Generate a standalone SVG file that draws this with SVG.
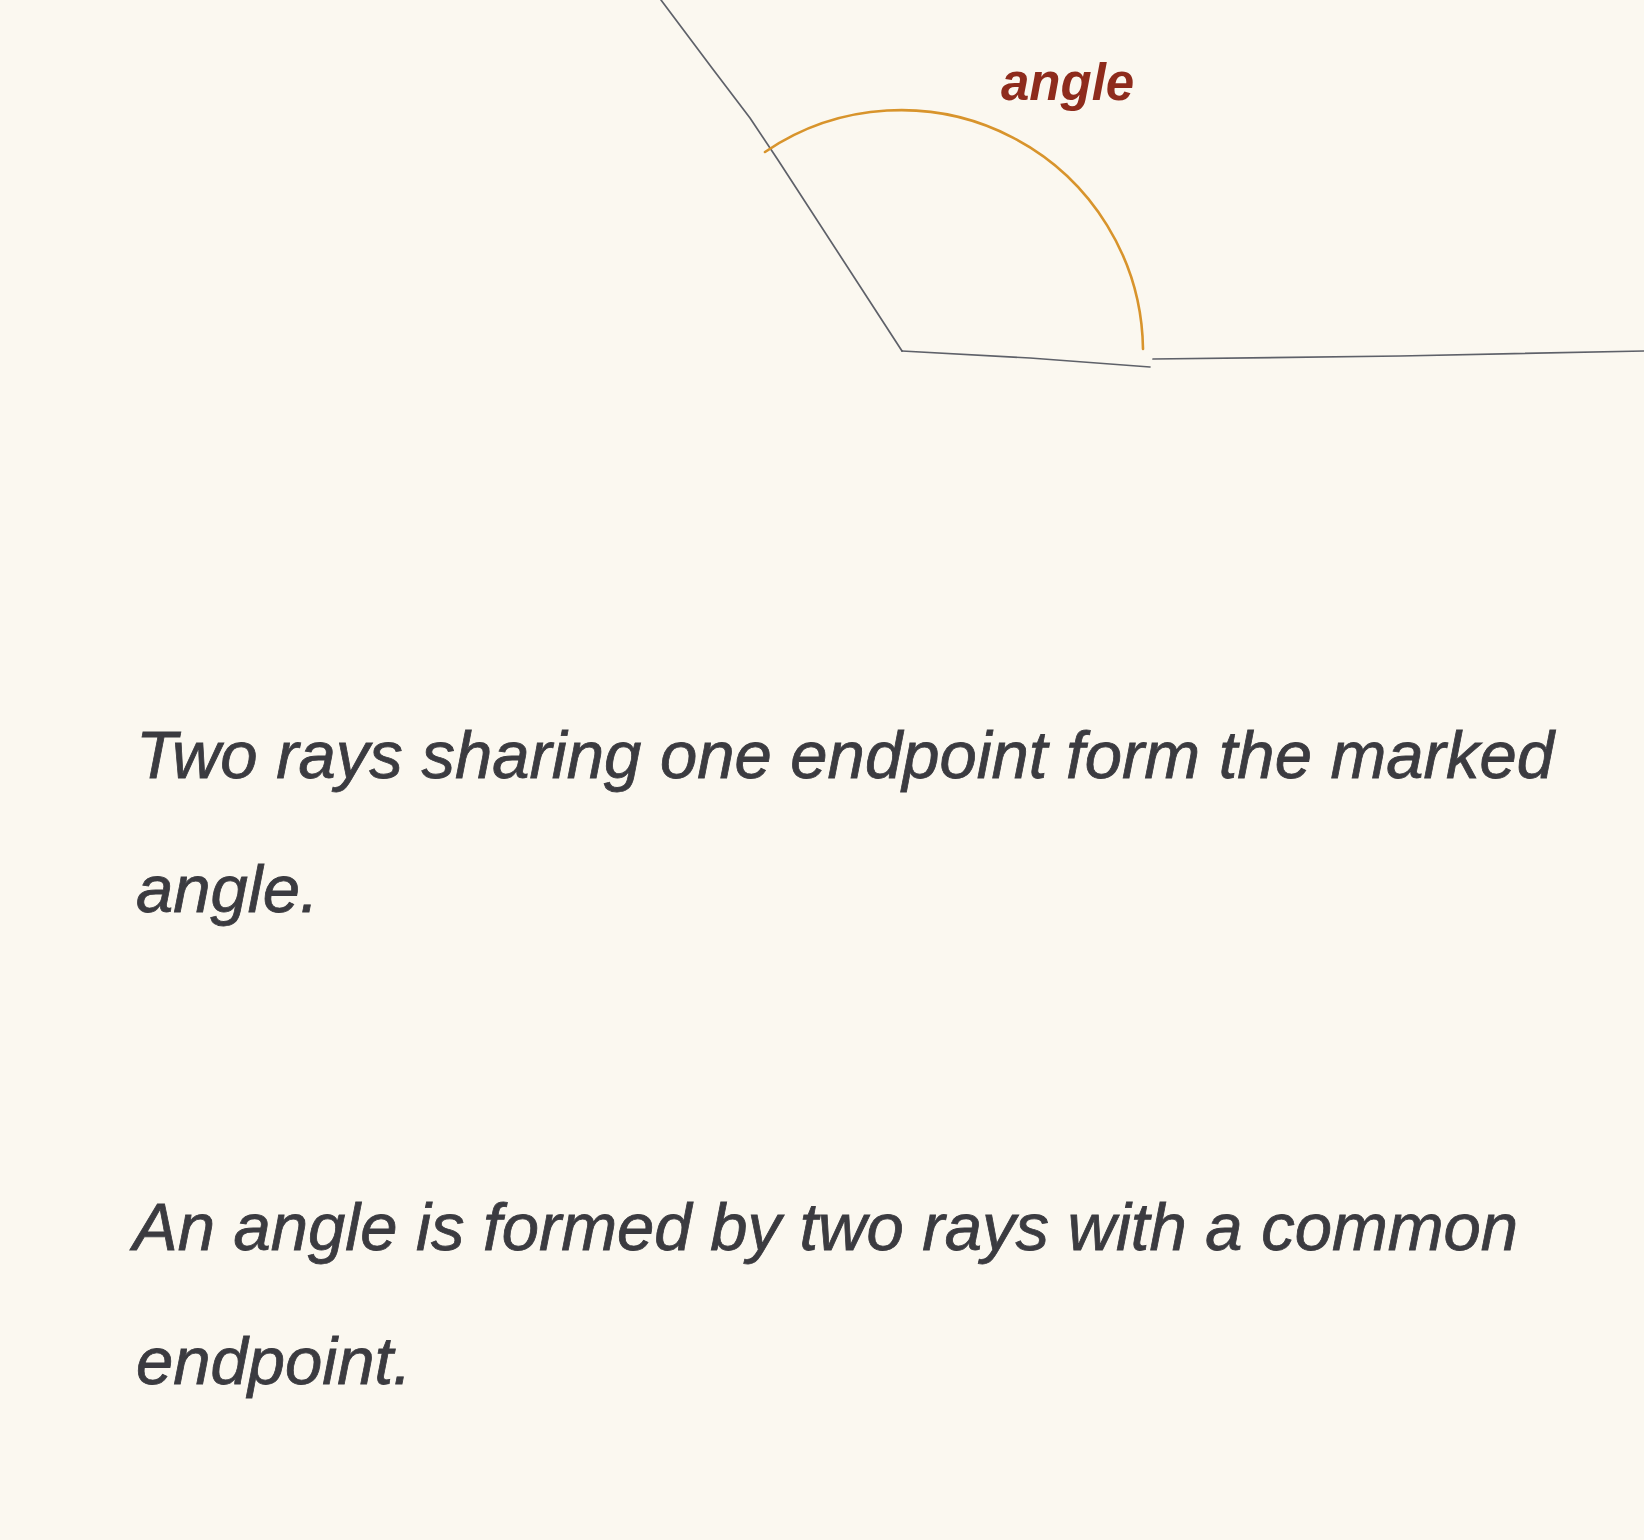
<svg xmlns="http://www.w3.org/2000/svg" width="1644" height="1540" viewBox="0 0 1644 1540">
  <style>
    .ray { fill: none; stroke: #4c505a; stroke-width: 1.7; stroke-linecap: round; stroke-linejoin: round; opacity: 0.9; }
    .arc { fill: none; stroke: #d8942c; stroke-width: 2.6; stroke-linecap: round; }
    .label { font-family: "Liberation Sans", Arial, sans-serif; font-style: italic; font-weight: bold; font-size: 51px; fill: #8e2b1c; }
    .body { font-family: "Liberation Sans", Arial, sans-serif; font-style: italic; font-size: 67px; fill: #3b3b40; stroke: #3b3b40; stroke-width: 0.8; }
  </style>
  <rect width="1644" height="1540" fill="#fbf8f0"/>
  <g id="connectors">
    <g id="ray-1">
      <polyline class="ray" points="661,0 712,68 750,118 778,160 902,351"/>
    </g>
    <g id="ray-2">
      <polyline class="ray" points="902,351 1030,358 1150,367"/>
      <polyline class="ray" points="1153,359 1400,356 1644,351"/>
    </g>
  </g>
  <g id="angle-mark">
    <path class="arc" d="M 765,152 A 242 242 0 0 1 1143,349"/>
  </g>
  <g id="angle-label">
    <text class="label" x="1001" y="100">angle</text>
  </g>
  <g id="caption-1">
    <text class="body" x="136" y="778" textLength="1418" lengthAdjust="spacingAndGlyphs">Two rays sharing one endpoint form the marked</text>
    <text class="body" x="136" y="912">angle.</text>
  </g>
  <g id="caption-2">
    <text class="body" x="133" y="1250" textLength="1385" lengthAdjust="spacingAndGlyphs">An angle is formed by two rays with a common</text>
    <text class="body" x="136" y="1384">endpoint.</text>
  </g>
</svg>
